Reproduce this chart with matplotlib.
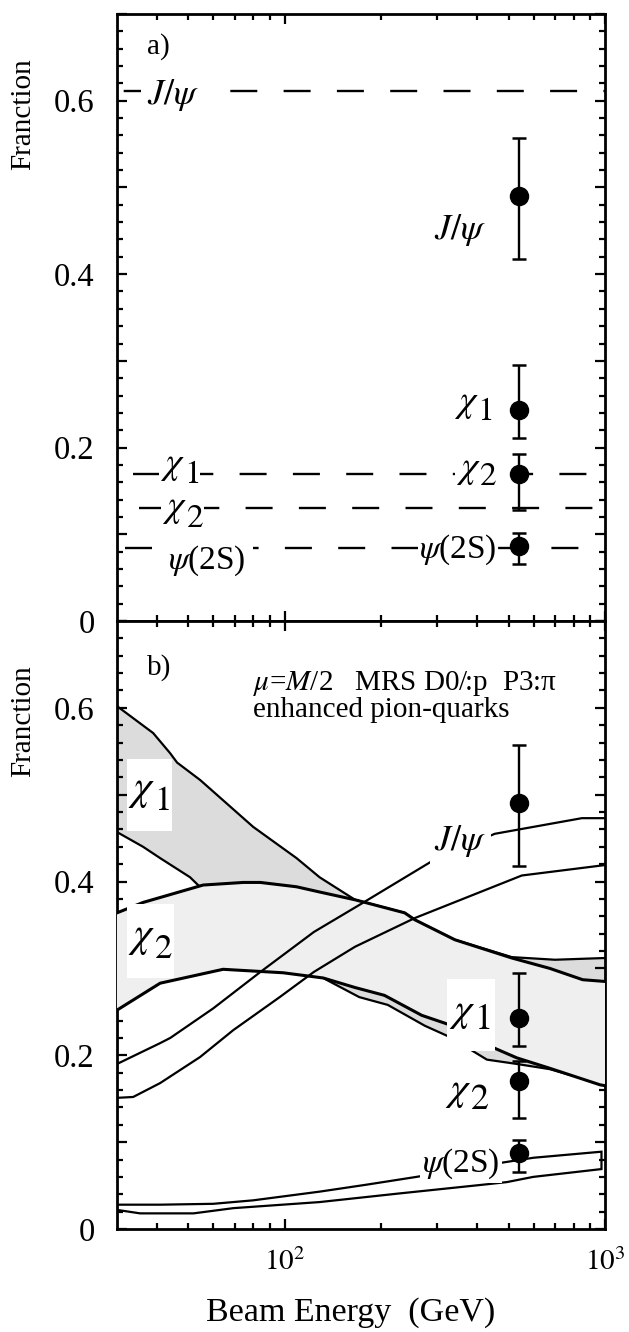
import matplotlib
matplotlib.use("Agg")
import matplotlib.pyplot as plt
import numpy as np
from matplotlib.ticker import FixedLocator, NullFormatter, MultipleLocator
from matplotlib.patches import Rectangle
from matplotlib.transforms import IdentityTransform, Bbox

plt.rcParams['font.family'] = ['Liberation Serif', 'DejaVu Serif']
plt.rcParams['mathtext.fontset'] = 'stix'

# ---------------- data ----------------
# measured fractions (both panels)
E_meas = 540
meas_names = ["J/psi", "chi1", "chi2", "psi2S"]
meas_val = [0.490, 0.243, 0.170, 0.087]
meas_lo = [0.418, 0.211, 0.128, 0.066]
meas_hi = [0.557, 0.295, 0.193, 0.102]

# panel a) model values (dashed lines)
model_val = [0.611, 0.170, 0.130, 0.084]

# panel b) model curves
E_chi1_up = [30, 38.9, 43.9, 46.2, 54.5, 79.8, 109, 128.6, 166, 237, 255, 340, 512, 698, 1000]
v_chi1_up = [0.602, 0.571, 0.548, 0.537, 0.517, 0.463, 0.427, 0.405, 0.379, 0.364, 0.356, 0.333, 0.313, 0.310, 0.312]
E_chi1_lo = [30, 36.2, 40.9, 50.7, 53.7, 80, 110, 135, 171, 210, 274, 328, 428, 531, 673, 1000]
v_chi1_lo = [0.457, 0.440, 0.427, 0.405, 0.396, 0.350, 0.310, 0.287, 0.267, 0.258, 0.234, 0.221, 0.195, 0.190, 0.184, 0.166]
E_chi2_up = [30, 36.2, 55.7, 74.3, 84, 109, 128.6, 166, 237, 255, 340, 512, 673, 852, 1000]
v_chi2_up = [0.364, 0.376, 0.396, 0.399, 0.399, 0.394, 0.388, 0.379, 0.364, 0.356, 0.333, 0.312, 0.300, 0.287, 0.285]
E_chi2_lo = [30, 40.9, 64.3, 99, 132, 166, 205, 268, 328, 428, 531, 673, 965, 1000]
v_chi2_lo = [0.252, 0.283, 0.299, 0.295, 0.289, 0.278, 0.269, 0.246, 0.235, 0.212, 0.197, 0.185, 0.166, 0.165]

E_jpsi_hi = [30, 40.9, 44, 59.9, 84.1, 123.5, 171, 299, 453, 847, 1000]
v_jpsi_hi = [0.190, 0.214, 0.220, 0.254, 0.296, 0.342, 0.373, 0.427, 0.455, 0.473, 0.473]
E_jpsi_lo = [30, 33.7, 40.9, 54.5, 69.2, 96.6, 123.5, 166, 255, 550, 1000]
v_jpsi_lo = [0.151, 0.152, 0.168, 0.198, 0.229, 0.267, 0.296, 0.325, 0.358, 0.407, 0.419]

E_psi_hi = [30, 40.9, 59.9, 79.8, 128.6, 180, 258, 470, 597, 975]
v_psi_hi = [0.028, 0.028, 0.029, 0.033, 0.043, 0.051, 0.060, 0.076, 0.082, 0.089]
E_psi_lo = [30, 35.4, 52, 69.2, 128.6, 229, 416, 494, 597, 975]
v_psi_lo = [0.022, 0.018, 0.018, 0.024, 0.031, 0.041, 0.051, 0.054, 0.060, 0.069]

xtick_vals = [100, 1000]
xtick_labels = [r"$10^{2}$", r"$10^{3}$"]
xminor = [40, 50, 60, 70, 80, 90, 200, 300, 400, 500, 600, 700, 800, 900]
ytick_vals = [0, 0.1, 0.2, 0.3, 0.4, 0.5, 0.6, 0.7]
ytick_labels = ["0", "", "0.2", "", "0.4", "", "0.6", ""]

# ---------------- layout ----------------
W, H = 629, 1332
fig = plt.figure(figsize=(W / 100, H / 100), dpi=100)
L, R = 117, 605
ax1 = fig.add_axes([L / W, (H - 621) / H, (R - L) / W, (621 - 14) / H])
ax2 = fig.add_axes([L / W, (H - 1229) / H, (R - L) / W, (1229 - 621) / H])

PT = 0.72  # points per pixel


def setup(ax, xlabels):
    ax.set_xscale('log')
    ax.set_xlim(30, 1000)
    ax.set_ylim(0, 0.7)
    ax.xaxis.set_major_locator(FixedLocator(xtick_vals))
    ax.xaxis.set_minor_locator(FixedLocator(xminor))
    ax.xaxis.set_minor_formatter(NullFormatter())
    if xlabels:
        ax.set_xticklabels(xtick_labels)
    else:
        ax.xaxis.set_major_formatter(NullFormatter())
    ax.yaxis.set_major_locator(FixedLocator(ytick_vals))
    ax.set_yticklabels(ytick_labels)
    ax.yaxis.set_minor_locator(MultipleLocator(0.02))
    ax.tick_params(which='both', direction='in', top=True, right=True, width=1.6)
    ax.tick_params(which='major', length=7.5)
    ax.tick_params(which='minor', length=4.5)
    ax.tick_params(axis='y', labelsize=23.5, pad=16)
    ax.tick_params(axis='x', labelsize=21, pad=14)
    for s in ax.spines.values():
        s.set_linewidth(2.0)
    ax.text(-0.193, 0.835, "Franction", transform=ax.transAxes, rotation=90,
            ha='center', va='center', fontsize=21)


setup(ax1, False)
setup(ax2, True)

boxes = []


def chi_label(ax, E, v, sub, size, subsize, dy, pads=None):
    t1 = ax.text(E, v, r"$\chi$", fontsize=size, ha='center', va='center', zorder=8)
    # subscript placed just right of the chi glyph box
    t2 = ax.annotate(r"$\mathrm{%s}$" % sub, xy=(1, 0.5), xycoords=t1,
                     xytext=(-1.0, dy * PT), textcoords='offset points',
                     fontsize=subsize, ha='left', va='center', zorder=8)
    if pads is not None:
        boxes.append((ax, t1, t2, pads))


# ---------------- panel a ----------------
lw_d = 1.7
on, off_ = 27 * PT / lw_d, 26.3 * PT / lw_d
period = 53.3
dash_start = [6.7, 16, 22, 8]  # gap before first dash (px)
for v, st in zip(model_val, dash_start):
    ax1.plot([30, 1000], [v, v], color='k', lw=lw_d,
             linestyle=((period - st) * PT / lw_d, (on, off_)), zorder=2)

ax1.text(37.1, 0.662, "a)", fontsize=21, ha='left', va='center')
ax1.text(37.1, 0.607, r"$J/\psi$", fontsize=26, ha='left', va='center', zorder=8,
         bbox=dict(fc='white', ec='none', pad=4))
chi_label(ax1, 44.8, 0.179, '1', 27, 24, -9, pads=(1, 1, 2, 2))
chi_label(ax1, 45.4, 0.129, '2', 27, 24, -10, pads=(1, 1, 2, 2))
ax1.text(43.3, 0.070, r"$\psi$(2S)", fontsize=24, ha='left', va='center', zorder=8,
         bbox=dict(fc='white', ec='none', pad=5))

ax1.text(428, 0.4506, r"$J/\psi$", fontsize=26, ha='right', va='center', zorder=8)
chi_label(ax1, 369, 0.250, '1', 27, 24, -8)
chi_label(ax1, 375, 0.174, '2', 27, 24, -7, pads=(1, 14, 3, 3))
ax1.text(460, 0.082, r"$\psi$(2S)", fontsize=24, ha='right', va='center', zorder=8,
         bbox=dict(fc='white', ec='none', pad=1))

for ax in (ax1, ax2):
    ax.errorbar([E_meas] * len(meas_val), meas_val,
                yerr=[np.array(meas_val) - np.array(meas_lo), np.array(meas_hi) - np.array(meas_val)],
                fmt='o', color='k', ms=13, elinewidth=1.7, capsize=4.8, capthick=1.8, zorder=10)

# ---------------- panel b ----------------
ax2.fill(np.concatenate([E_chi1_up, E_chi1_lo[::-1]]), np.concatenate([v_chi1_up, v_chi1_lo[::-1]]),
         color='#dcdcdc', lw=0, zorder=1)
ax2.plot(E_chi1_up, v_chi1_up, color='k', lw=1.6, zorder=2)
ax2.plot(E_chi1_lo, v_chi1_lo, color='k', lw=1.6, zorder=2)
ax2.fill(np.concatenate([E_chi2_up, E_chi2_lo[::-1]]), np.concatenate([v_chi2_up, v_chi2_lo[::-1]]),
         color='#efefef', lw=0, zorder=3)
ax2.plot(E_chi2_up, v_chi2_up, color='k', lw=2.2, zorder=4)
ax2.plot(E_chi2_lo, v_chi2_lo, color='k', lw=2.2, zorder=4)

ax2.plot(E_jpsi_hi, v_jpsi_hi, color='k', lw=1.6, zorder=5)
ax2.plot(E_jpsi_lo, v_jpsi_lo, color='k', lw=1.6, zorder=5)
ax2.fill(np.concatenate([E_psi_hi, E_psi_lo[::-1]]), np.concatenate([v_psi_hi, v_psi_lo[::-1]]),
         facecolor='none', edgecolor='k', lw=1.6, zorder=5)

ax2.text(37.1, 0.647, "b)", fontsize=21, ha='left', va='center')
ax2.text(79.8, 0.589, r"$\mu$=$M$/2   MRS D0/:p  P3:π" + "\n" + "enhanced pion-quarks",
         fontsize=21, ha='left', va='baseline', linespacing=0.95)

chi_label(ax2, 35.8, 0.504, '1', 30, 25, -10.5, pads=(1, 3, 13, 13))
chi_label(ax2, 35.8, 0.335, '2', 30, 25, -11, pads=(1, 2, 15, 12))
chi_label(ax2, 359, 0.249, '1', 29, 26, -7.5, pads=(2, 4, 15, 14))
chi_label(ax2, 348, 0.158, '2', 29, 26, -8.5)
ax2.text(428, 0.4465, r"$J/\psi$", fontsize=26, ha='right', va='center', zorder=8,
         bbox=dict(fc='white', ec='none', pad=3))
ax2.text(470, 0.0754, r"$\psi$(2S)", fontsize=24, ha='right', va='center', zorder=8,
         bbox=dict(fc='white', ec='none', pad=1.5))

fig.text(351 / W, 1 - 1313 / H, "Beam Energy  (GeV)", ha='center', va='center', fontsize=24.5)

# white boxes behind split chi labels
fig.canvas.draw()
rend = fig.canvas.get_renderer()
for ax, t1, t2, (pl, pr, pt, pb) in boxes:
    bb = Bbox.union([t1.get_window_extent(rend), t2.get_window_extent(rend)])
    rect = Rectangle((bb.x0 - pl, bb.y0 - pb), bb.width + pl + pr, bb.height + pt + pb,
                     transform=IdentityTransform(), facecolor='white', edgecolor='none', zorder=7)
    ax.add_patch(rect)

fig.savefig("out.png", dpi=100)
